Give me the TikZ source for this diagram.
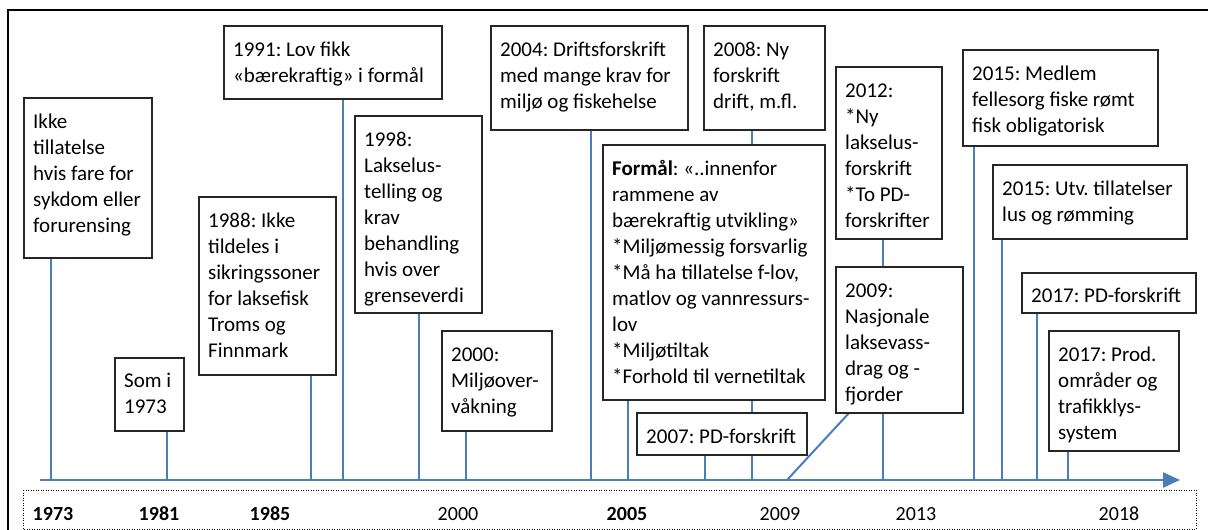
\documentclass[tikz,border=0pt]{standalone}
\usepackage{fontspec}
\setmainfont{Carlito}
\usetikzlibrary{arrows.meta,backgrounds}
\definecolor{lineblue}{RGB}{74,126,187}
\frenchspacing
\begin{document}
\begin{tikzpicture}[x=1pt,y=-1pt,
    evbox/.style={draw=black!85, line width=1.2pt, fill=white, anchor=north west, inner sep=0pt, outer sep=0pt},
    evtext/.style={anchor=north west, align=left, inner sep=0pt, font=\fontsize{21}{26}\selectfont},
    stem/.style={lineblue, line width=2pt},
    yearlab/.style={anchor=base, font=\fontsize{20}{24}\selectfont}]
    \useasboundingbox (0,0) rectangle (1208,530);
    \draw[line width=2pt] (8,532) -- (8,10) -- (1210,10);
    % points on the time axis
    \foreach \n/\x in {1973/51, 1981/167, 1988/311, 1991/343, 1998/419, 2000/466, 2004/591, 2005/628,
        2007/705, 2008/752, 2009/787, 2012/883, 2015a/974, 2015b/1002, 2017a/1037, 2017b/1068}
        \coordinate (t\n) at (\x,480);
    % boxes
    \node[evbox, minimum width=128pt, minimum height=160pt] (b1973) at (24,98) {};
    \node[evtext] at ([shift={(9pt,-14pt)}]b1973.north west) {\rule{0pt}{16pt}Ikke\\tillatelse\\hvis fare for\\sykdom eller\\forurensing};
    \node[evbox, minimum width=69pt, minimum height=73pt] (b1981) at (115,358) {};
    \node[evtext] at ([shift={(9pt,-13pt)}]b1981.north west) {\rule{0pt}{16pt}Som i\\1973};
    \node[evbox, minimum width=137pt, minimum height=178pt] (b1988) at (199,197) {};
    \node[evtext] at ([shift={(9pt,-14pt)}]b1988.north west) {\rule{0pt}{16pt}1988: Ikke\\tildeles i\\sikringssoner\\for laksefisk\\Troms og\\Finnmark};
    \node[evbox, minimum width=218pt, minimum height=73pt] (b1991) at (224,26) {};
    \node[evtext] at ([shift={(9pt,-14pt)}]b1991.north west) {\rule{0pt}{16pt}1991: Lov fikk\\«bærekraftig» i formål};
    \node[evbox, minimum width=127pt, minimum height=197pt] (b1998) at (355,116) {};
    \node[evtext] at ([shift={(9pt,-14pt)}]b1998.north west) {\rule{0pt}{16pt}1998:\\Lakselus-\\telling og\\krav\\behandling\\hvis over\\grenseverdi};
    \node[evbox, minimum width=110pt, minimum height=100pt] (b2000) at (442,331) {};
    \node[evtext] at ([shift={(9pt,-14pt)}]b2000.north west) {\rule{0pt}{16pt}2000:\\Miljøover-\\våkning};
    \node[evbox, minimum width=197pt, minimum height=104pt] (b2004) at (491,26) {};
    \node[evtext] at ([shift={(9pt,-14pt)}]b2004.north west) {\rule{0pt}{16pt}2004: Driftsforskrift\\med mange krav for\\miljø og fiskehelse};
    \node[evbox, minimum width=121pt, minimum height=104pt] (b2008) at (704,26) {};
    \node[evtext] at ([shift={(9pt,-14pt)}]b2008.north west) {\rule{0pt}{16pt}2008: Ny\\forskrift\\drift, m.fl.};
    \node[evbox, minimum width=222pt, minimum height=255pt] (bform) at (603,145) {};
    \node[evtext] at ([shift={(9pt,-14pt)}]bform.north west) {\rule{0pt}{16pt}\textbf{Formål}: «..innenfor\\rammene av\\bærekraftig utvikling»\\*Miljømessig forsvarlig\\*Må ha tillatelse f-lov,\\matlov og vannressurs-\\lov\\*Miljøtiltak\\*Forhold til vernetiltak};
    \node[evbox, minimum width=170pt, minimum height=42pt] (b2007) at (637,413) {};
    \node[evtext] at ([shift={(9pt,-14pt)}]b2007.north west) {\rule{0pt}{16pt}2007: PD-forskrift};
    \node[evbox, minimum width=127pt, minimum height=146pt] (b2009) at (836,267) {};
    \node[evtext] at ([shift={(9pt,-14pt)}]b2009.north west) {\rule{0pt}{16pt}2009:\\Nasjonale\\laksevass-\\drag og -\\fjorder};
    \node[evbox, minimum width=106pt, minimum height=172pt] (b2012) at (836,67) {};
    \node[evtext] at ([shift={(9pt,-14pt)}]b2012.north west) {\rule{0pt}{16pt}2012:\\*Ny\\lakselus-\\forskrift\\*To PD-\\forskrifter};
    \node[evbox, minimum width=195pt, minimum height=96pt] (b2015a) at (963,50) {};
    \node[evtext] at ([shift={(9pt,-14pt)}]b2015a.north west) {\rule{0pt}{16pt}2015: Medlem\\fellesorg fiske rømt\\fisk obligatorisk};
    \node[evbox, minimum width=194pt, minimum height=74pt] (b2015b) at (993,165) {};
    \node[evtext] at ([shift={(9pt,-14pt)}]b2015b.north west) {\rule{0pt}{16pt}2015: Utv. tillatelser\\lus og rømming};
    \node[evbox, minimum width=174pt, minimum height=40pt] (b2017a) at (1022,273) {};
    \node[evtext] at ([shift={(9pt,-13pt)}]b2017a.north west) {\rule{0pt}{16pt}2017: PD-forskrift};
    \node[evbox, minimum width=130pt, minimum height=120pt] (b2017b) at (1049,331) {};
    \node[evtext] at ([shift={(9pt,-14pt)}]b2017b.north west) {\rule{0pt}{16pt}2017: Prod.\\områder og\\trafikklys-\\system};
    % stems behind the boxes
    \begin{pgfonlayer}{background}
        \foreach \n/\b in {1973/b1973, 1981/b1981, 1988/b1988, 1991/b1991, 1998/b1998, 2000/b2000,
            2004/b2004, 2005/bform, 2007/b2007, 2008/b2008, 2012/b2012, 2015a/b2015a, 2015b/b2015b,
            2017a/b2017a, 2017b/b2017b}
            \draw[stem] (t\n |- \b.south) -- (t\n);
        \draw[stem] ([xshift=13pt]b2009.south west) -- (t2009);
    \end{pgfonlayer}
    % time axis
    \draw[lineblue, line width=2.5pt, -{Triangle[length=17pt, width=15pt]}] (40,480) -- (1180,480);
    \draw[line width=0.8pt, dash pattern=on 1pt off 1.5pt] (23,490) rectangle (1196,529);
    \foreach \yr/\x in {1973/53, 1981/159, 1985/270, 2005/627}
        \node[yearlab, font=\fontsize{20}{24}\selectfont\bfseries] (y\yr) at (\x,520) {\yr};
    \foreach \yr/\x in {2000/458, 2009/780, 2013/916, 2018/1119}
        \node[yearlab] (y\yr) at (\x,520) {\yr};
\end{tikzpicture}
\end{document}
